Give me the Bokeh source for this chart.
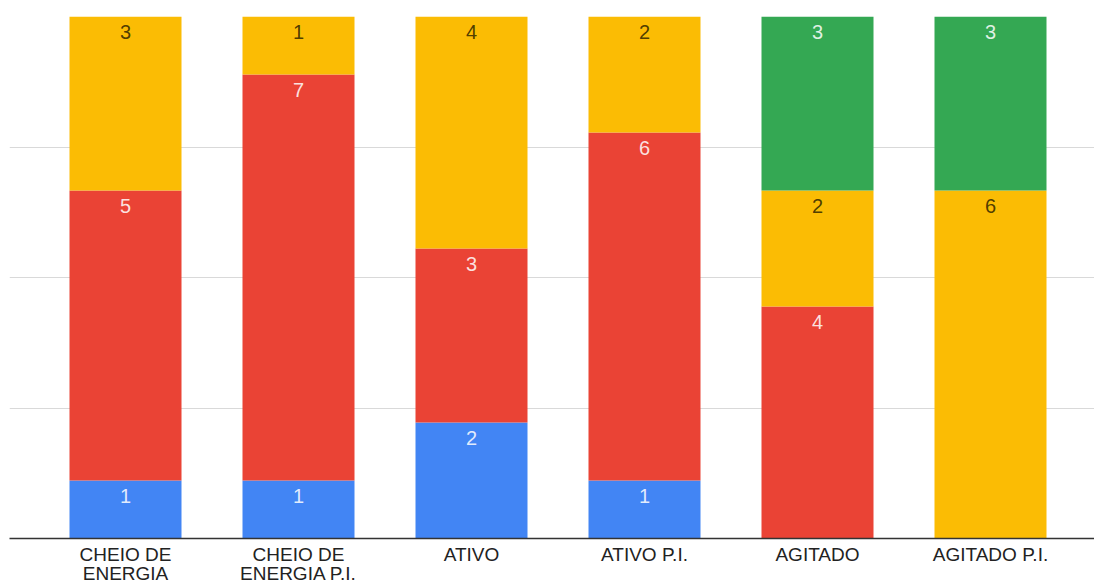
from bokeh.plotting import figure
from bokeh.models import ColumnDataSource, Range1d, FixedTicker
from bokeh.core.properties import value
from bokeh.embed import file_html
from bokeh.resources import INLINE

categories = ["CHEIO DE ENERGIA", "CHEIO DE ENERGIA P.I.", "ATIVO", "ATIVO P.I.", "AGITADO", "AGITADO P.I."]
tick_labels = ["CHEIO DE\nENERGIA", "CHEIO DE\nENERGIA P.I.", "ATIVO", "ATIVO P.I.", "AGITADO", "AGITADO P.I."]
series_names = ["blue", "red", "yellow", "green"]
blue = [1, 1, 2, 1, 0, 0]
red = [5, 7, 3, 6, 4, 0]
yellow = [3, 1, 4, 2, 2, 6]
green = [0, 0, 0, 0, 3, 3]
colors = ["#4285F4", "#EA4335", "#FBBC04", "#34A853"]
label_colors = ["#ffffff", "#ffffff", "#3a2e00", "#ffffff"]
label_alpha = [0.85, 0.85, 0.9, 0.85]

values = {"blue": blue, "red": red, "yellow": yellow, "green": green}
xs = list(range(len(categories)))
totals = [sum(values[s][i] for s in series_names) for i in xs]
data = {"x": xs}
for s in series_names:
    data[s] = [values[s][i] / totals[i] for i in xs]
src = ColumnDataSource(data)

# frame geometry: 173 px per category, first centre at 125 px, frame from 9 to 1094 px
px_per = 173.0
start = (9 - 125) / px_per
end = start + 1085 / px_per

p = figure(width=1094, height=588, output_backend="svg", toolbar_location=None,
           x_range=Range1d(start, end), y_range=Range1d(0, 1),
           min_border_left=9, min_border_right=0, min_border_top=16, min_border_bottom=50)
p.outline_line_color = None
p.background_fill_color = "white"
p.border_fill_color = "white"

p.vbar_stack(series_names, x="x", width=112 / px_per, color=colors, line_color=None, source=src)

# labels
lx, ly, lt, lc, la = [], [], [], [], []
for i in xs:
    cum = 0
    for k, s in enumerate(series_names):
        v = values[s][i]
        if v > 0:
            top = (cum + v) / totals[i]
            lx.append(i)
            ly.append(top)
            lt.append(str(v))
            lc.append(label_colors[k])
            la.append(label_alpha[k])
        cum += v
lsrc = ColumnDataSource(dict(x=lx, y=ly, t=lt, c=lc, a=la))
p.text(x="x", y="y", text="t", source=lsrc, text_color="c", text_alpha="a",
       text_align="center", text_baseline="top", y_offset=8,
       text_font=value("Liberation Sans"), text_font_size="20px")

p.yaxis.visible = False
p.xgrid.grid_line_color = None
p.ygrid.ticker = FixedTicker(ticks=[0.25, 0.5, 0.75, 1.0])
p.ygrid.grid_line_color = "#d9d9d9"
p.ygrid.grid_line_width = 1

ax = p.xaxis[0]
ax.ticker = FixedTicker(ticks=xs)
ax.major_label_overrides = {i: tick_labels[i] for i in xs}
ax.major_tick_line_color = None
ax.minor_tick_line_color = None
ax.major_tick_out = 0
ax.major_tick_in = 0
ax.minor_tick_out = 0
ax.axis_line_color = "#333333"
ax.axis_line_width = 1.5
ax.major_label_text_font = "Liberation Sans"
ax.major_label_text_font_size = "19px"
ax.major_label_text_color = "#222222"
ax.major_label_text_line_height = 0.95
ax.major_label_standoff = 5

open("out.html", "w").write(file_html(p, INLINE))
